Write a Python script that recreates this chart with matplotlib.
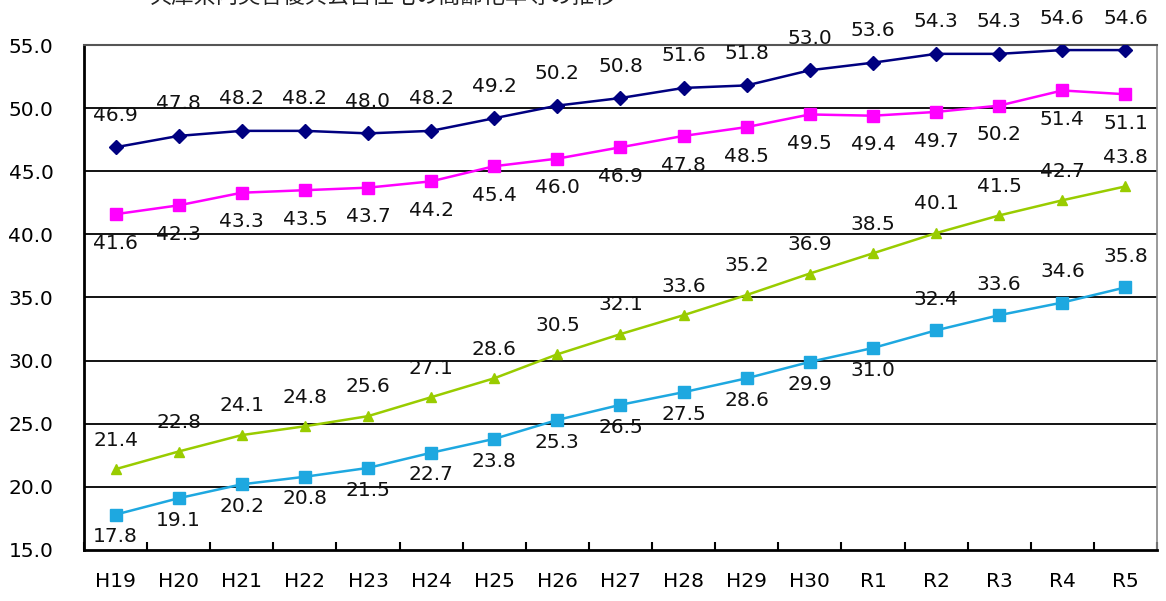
import matplotlib
matplotlib.use('Agg')
import matplotlib.pyplot as plt
import numpy as np

# ---------------------------DATA------------------------------------#
years = ['H19', 'H20', 'H21', 'H22', 'H23', 'H24', 'H25', 'H26', 'H27',
         'H28', 'H29', 'H30', 'R1', 'R2', 'R3', 'R4', 'R5']

navy_vals = [46.9, 47.8, 48.2, 48.2, 48.0, 48.2, 49.2, 50.2, 50.8,
             51.6, 51.8, 53.0, 53.6, 54.3, 54.3, 54.6, 54.6]
magenta_vals = [41.6, 42.3, 43.3, 43.5, 43.7, 44.2, 45.4, 46.0, 46.9,
                47.8, 48.5, 49.5, 49.4, 49.7, 50.2, 51.4, 51.1]
green_vals = [21.4, 22.8, 24.1, 24.8, 25.6, 27.1, 28.6, 30.5, 32.1,
              33.6, 35.2, 36.9, 38.5, 40.1, 41.5, 42.7, 43.8]
cyan_vals = [17.8, 19.1, 20.2, 20.8, 21.5, 22.7, 23.8, 25.3, 26.5,
             27.5, 28.6, 29.9, 31.0, 32.4, 33.6, 34.6, 35.8]

title = '兵庫県内災害復興公営住宅の高齢化率等の推移'

# ---------------------------PLOT------------------------------------#
plt.rcParams['font.family'] = ['DejaVu Sans']

fig = plt.figure(figsize=(11.66, 6.01), dpi=100)
ax = fig.add_axes([0.072, 0.0849, 0.9203, 0.8402])

x = np.arange(len(years))

# values, colour, marker, marker size, label side, label offset (pt)
series = [
    (navy_vals, '#000080', 'D', 7, 'above', 23),
    (magenta_vals, '#FF00FF', 's', 8, 'below', -21),
    (green_vals, '#99CC00', '^', 7, 'above', 21),
    (cyan_vals, '#1EA8E0', 's', 8, 'below', -16),
]

for vals, col, mk, ms, where, dy in series:
    ax.plot(x, vals, color=col, marker=mk, markersize=ms, linewidth=1.8,
            markeredgecolor=col, zorder=3)
    for i, v in enumerate(vals):
        d = dy
        # the last few cyan labels sit above the line
        if col == '#1EA8E0' and i >= 13:
            d = 22
        ax.annotate(f'{v:.1f}', (i, v), xytext=(0, d), textcoords='offset points',
                    ha='center', va='center', fontsize=14.5, color='#111111', zorder=4)

ax.set_xlim(-0.5, len(years) - 0.5)
ax.set_ylim(15, 55)
ax.set_yticks(np.arange(15, 56, 5))
ax.set_yticklabels([f'{t:.1f}' for t in np.arange(15, 56, 5)], fontsize=14.5)
ax.tick_params(axis='y', length=0, pad=22)

ax.set_xticks(x)
ax.set_xticklabels(years, fontsize=14.5)
ax.set_xticks(np.arange(-0.5, len(years)), minor=True)
ax.tick_params(axis='x', which='major', length=0, pad=16)
ax.tick_params(axis='x', which='minor', direction='in', length=6, width=1.5, color='black')

for yv in range(20, 55, 5):
    ax.axhline(yv, color='black', linewidth=1.3, zorder=1)

ax.spines['left'].set_linewidth(2)
ax.spines['bottom'].set_linewidth(2)
ax.spines['top'].set_color('#555555')
ax.spines['top'].set_linewidth(1.5)
ax.spines['right'].set_color('#888888')
ax.spines['right'].set_linewidth(1.2)

fig.text(0.329, 1.005, title, ha='center', va='center', fontsize=16,
         family=['Noto Sans CJK JP', 'DejaVu Sans'], color='#222222')

plt.savefig('out.png', dpi=100)
